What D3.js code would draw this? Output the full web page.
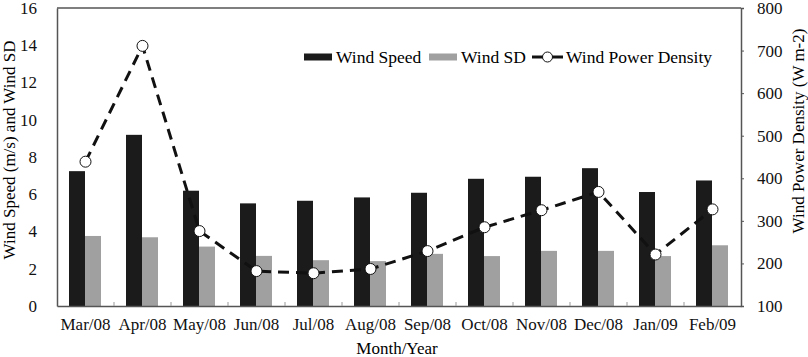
<!DOCTYPE html>
<html>
<head>
<meta charset="utf-8">
<script src="https://cdn.jsdelivr.net/npm/d3@7"></script>
<style>
  body { margin: 0; background: #fff; }
</style>
</head>
<body>
<div id="chart"></div>
<script>
// data
const months = ['Mar/08', 'Apr/08', 'May/08', 'Jun/08', 'Jul/08', 'Aug/08',
  'Sep/08', 'Oct/08', 'Nov/08', 'Dec/08', 'Jan/09', 'Feb/09'];
const windSpeed = [7.24, 9.19, 6.19, 5.51, 5.65, 5.83, 6.08, 6.83, 6.94, 7.40, 6.12, 6.74];
const windSD = [3.76, 3.69, 3.19, 2.69, 2.46, 2.41, 2.80, 2.68, 2.96, 2.96, 2.68, 3.26];
const powerDensity = [439, 711, 276, 182, 177, 187, 229, 285, 325, 368, 221, 327];
const leftTicks = [0, 2, 4, 6, 8, 10, 12, 14, 16];
const rightTicks = [100, 200, 300, 400, 500, 600, 700, 800];

const width = 808;
const height = 357;
const margin = { top: 8, right: 67, bottom: 51, left: 57 };
const w = width - margin.left - margin.right;
const h = height - margin.top - margin.bottom;
const axisColor = '#555';
const font = 'Liberation Serif';

const svg = d3.select('#chart')
  .append('svg')
  .attr('width', width)
  .attr('height', height)
  .append('g')
  .attr('transform', `translate(${margin.left},${margin.top})`);

const x = d3.scaleBand().domain(months).range([0, w]);
const yL = d3.scaleLinear().domain([0, 16]).range([h, 0]);
const yR = d3.scaleLinear().domain([100, 800]).range([h, 0]);

const barW = 16;
const barOff = 12;

// frame top line
svg.append('line')
  .attr('x1', 0).attr('x2', w).attr('y1', 0).attr('y2', 0)
  .attr('stroke', axisColor).attr('stroke-width', 1.5);

// bars
svg.selectAll('.ws')
  .data(windSpeed)
  .enter()
  .append('rect')
  .attr('x', (d, i) => x(months[i]) + barOff)
  .attr('y', d => yL(d))
  .attr('width', barW)
  .attr('height', d => h - yL(d))
  .attr('fill', '#1b1b1b');

svg.selectAll('.sd')
  .data(windSD)
  .enter()
  .append('rect')
  .attr('x', (d, i) => x(months[i]) + barOff + barW)
  .attr('y', d => yL(d))
  .attr('width', barW)
  .attr('height', d => h - yL(d))
  .attr('fill', '#a0a0a0');

function styleAxis(g) {
  g.attr('font-family', font);
  g.select('.domain').attr('stroke', axisColor).attr('stroke-width', 1.5);
  g.selectAll('line').attr('stroke', axisColor);
  g.selectAll('text').attr('font-size', 17).attr('fill', '#111').attr('font-family', font);
}

// left axis
svg.append('g')
  .call(d3.axisLeft(yL).tickValues(leftTicks).tickSize(0).tickPadding(20))
  .call(styleAxis);

// right axis
svg.append('g')
  .attr('transform', `translate(${w},0)`)
  .call(d3.axisRight(yR).tickValues(rightTicks).tickSize(3).tickPadding(13))
  .call(styleAxis);

// bottom axis
svg.append('g')
  .attr('transform', `translate(0,${h})`)
  .call(d3.axisBottom(x).tickSize(0).tickPadding(12))
  .call(styleAxis);

// small inside ticks between categories
svg.selectAll('.sep')
  .data(months.slice(1))
  .enter()
  .append('line')
  .attr('x1', d => x(d)).attr('x2', d => x(d))
  .attr('y1', h).attr('y2', h - 4)
  .attr('stroke', '#999').attr('stroke-width', 1);

// power density line
const line = d3.line()
  .x((d, i) => x(months[i]) + x.bandwidth() / 2)
  .y(d => yR(d));

svg.append('path')
  .datum(powerDensity)
  .attr('d', line)
  .attr('fill', 'none')
  .attr('stroke', '#111')
  .attr('stroke-width', 3)
  .attr('stroke-dasharray', '11,7');

svg.selectAll('.pd')
  .data(powerDensity)
  .enter()
  .append('circle')
  .attr('cx', (d, i) => x(months[i]) + x.bandwidth() / 2)
  .attr('cy', d => yR(d))
  .attr('r', 5.5)
  .attr('fill', '#fff')
  .attr('stroke', '#111')
  .attr('stroke-width', 1);

// legend
const lg = svg.append('g')
  .attr('transform', `translate(0,${57 - margin.top})`)
  .attr('font-family', font)
  .attr('font-size', 17.5);
lg.append('rect').attr('x', 304 - margin.left).attr('y', -3.5).attr('width', 28).attr('height', 7).attr('fill', '#1b1b1b');
lg.append('text').attr('x', 336 - margin.left).attr('y', 6).attr('font-family', font).text('Wind Speed');
lg.append('rect').attr('x', 429 - margin.left).attr('y', -3.5).attr('width', 28).attr('height', 7).attr('fill', '#a0a0a0');
lg.append('text').attr('x', 461 - margin.left).attr('y', 6).attr('font-family', font).text('Wind SD');
lg.append('line').attr('x1', 532 - margin.left).attr('x2', 563 - margin.left).attr('y1', 0).attr('y2', 0)
  .attr('stroke', '#111').attr('stroke-width', 3);
lg.append('circle').attr('cx', 547.5 - margin.left).attr('cy', 0).attr('r', 5)
  .attr('fill', '#fff').attr('stroke', '#111');
lg.append('text').attr('x', 566 - margin.left).attr('y', 6).attr('font-family', font).text('Wind Power Density');

// axis titles
svg.append('text')
  .attr('transform', 'rotate(-90)')
  .attr('x', -(150 - margin.top))
  .attr('y', -margin.left + 15)
  .attr('text-anchor', 'middle')
  .attr('font-family', font)
  .attr('font-size', 17)
  .text('Wind Speed (m/s) and Wind SD');

svg.append('text')
  .attr('transform', 'rotate(-90)')
  .attr('x', -(131 - margin.top))
  .attr('y', w + 63)
  .attr('text-anchor', 'middle')
  .attr('font-family', font)
  .attr('font-size', 17)
  .text('Wind Power Density (W m-2)');

svg.append('text')
  .attr('x', w / 2 - 2)
  .attr('y', h + 48)
  .attr('text-anchor', 'middle')
  .attr('font-family', font)
  .attr('font-size', 17)
  .text('Month/Year');
</script>
</body>
</html>
